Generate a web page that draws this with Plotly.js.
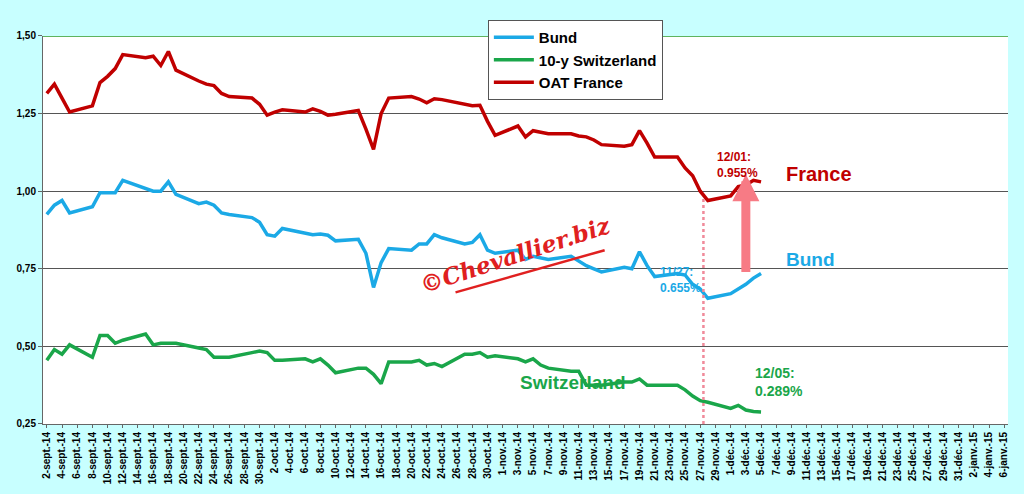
<!DOCTYPE html>
<html>
<head>
<meta charset="utf-8">
<script src="https://cdn.plot.ly/plotly-3.0.1.min.js"></script>
<style>body{margin:0;background:#c8ffff}</style>
</head>
<body>
<div id="chart" style="width:1024px;height:494px"></div>
<script>
var dates = ['2014-09-02','2014-09-03','2014-09-04','2014-09-05','2014-09-08','2014-09-09','2014-09-10','2014-09-11','2014-09-12',
  '2014-09-15','2014-09-16','2014-09-17','2014-09-18','2014-09-19','2014-09-22','2014-09-23','2014-09-24','2014-09-25','2014-09-26',
  '2014-09-29','2014-09-30','2014-10-01','2014-10-02','2014-10-03','2014-10-06','2014-10-07','2014-10-08','2014-10-09','2014-10-10',
  '2014-10-13','2014-10-14','2014-10-15','2014-10-16','2014-10-17','2014-10-20','2014-10-21','2014-10-22','2014-10-23','2014-10-24',
  '2014-10-27','2014-10-28','2014-10-29','2014-10-30','2014-10-31','2014-11-03','2014-11-04','2014-11-05','2014-11-06','2014-11-07',
  '2014-11-10','2014-11-11','2014-11-12','2014-11-13','2014-11-14','2014-11-17','2014-11-18','2014-11-19','2014-11-20','2014-11-21',
  '2014-11-24','2014-11-25','2014-11-26','2014-11-27','2014-11-28','2014-12-01','2014-12-02','2014-12-03','2014-12-04','2014-12-05']

var bund = [0.925,0.955,0.97,0.93,0.95,0.995,0.995,0.995,1.035,
  1.01,1.00,1.00,1.03,0.99,0.96,0.965,0.955,0.93,0.925,
  0.915,0.90,0.86,0.855,0.88,0.865,0.86,0.862,0.858,0.84,
  0.845,0.80,0.69,0.77,0.815,0.81,0.83,0.83,0.86,0.85,
  0.83,0.835,0.86,0.81,0.80,0.81,0.78,0.79,0.785,0.78,
  0.79,0.775,0.76,0.75,0.74,0.755,0.75,0.805,0.76,0.725,
  0.735,0.73,0.70,0.685,0.655,0.67,0.685,0.70,0.72,0.735]

var swiss = [0.455,0.49,0.475,0.505,0.465,0.535,0.535,0.51,0.52,
  0.54,0.505,0.51,0.51,0.51,0.495,0.49,0.465,0.465,0.465,
  0.48,0.485,0.48,0.455,0.455,0.46,0.45,0.46,0.44,0.415,
  0.43,0.43,0.41,0.38,0.45,0.45,0.455,0.44,0.445,0.435,
  0.475,0.475,0.48,0.465,0.47,0.46,0.45,0.46,0.44,0.43,
  0.42,0.42,0.375,0.375,0.375,0.385,0.385,0.395,0.375,0.375,
  0.375,0.36,0.34,0.325,0.32,0.30,0.31,0.295,0.29,0.289]

var oat = [1.315,1.345,1.30,1.255,1.275,1.35,1.37,1.395,1.44,
  1.43,1.435,1.405,1.45,1.39,1.355,1.345,1.34,1.315,1.305,
  1.30,1.28,1.245,1.255,1.262,1.255,1.265,1.257,1.245,1.248,
  1.26,1.20,1.135,1.25,1.30,1.305,1.297,1.285,1.298,1.295,
  1.28,1.275,1.277,1.225,1.18,1.21,1.175,1.195,1.19,1.185,
  1.185,1.178,1.175,1.165,1.15,1.145,1.15,1.195,1.155,1.11,
  1.11,1.075,1.05,1.00,0.97,0.985,1.015,1.02,1.035,1.03]

// tick labels every 2 days, French month abbreviations
var frMonths = ['janv.','févr.','mars','avr.','mai','juin','juil.','août','sept.','oct.','nov.','déc.']
var tickVals = [], tickText = []
for (var t = new Date(Date.UTC(2014,8,2)); t <= new Date(Date.UTC(2015,0,6)); t = new Date(t.getTime() + 2*86400000)) {
    tickVals.push(t.toISOString().slice(0,10))
    tickText.push(t.getUTCDate() + '-' + frMonths[t.getUTCMonth()] + '-' + String(t.getUTCFullYear()).slice(2))
}

function trace(name, y, color) {
    return {x: dates, y: y, name: name, type: 'scatter', mode: 'lines',
            line: {color: color, width: 3.5}, hoverinfo: 'skip'}
}
var data = [trace('Bund', bund, '#1ba9e6'), trace('10-y Switzerland', swiss, '#1aa64a'), trace('OAT France', oat, '#c00000')]

var layout = {
    width: 1024, height: 494,
    margin: {l: 43, r: 16, t: 20, b: 70},
    paper_bgcolor: '#c8ffff', plot_bgcolor: '#ffffff',
    separators: ',.',
    font: {family: 'Arial, Liberation Sans', color: '#000'},
    showlegend: true,
    legend: {x: 0.461, y: 1.0, xanchor: 'left', yanchor: 'top',
             bgcolor: '#fff', bordercolor: '#555', borderwidth: 1, itemwidth: 40,
             font: {size: 15, weight: 'bold', family: 'Arial, Liberation Sans'}, tracegroupgap: 6},
    xaxis: {type: 'date', range: ['2014-09-01 12:00', '2015-01-06 12:00'], tickvals: tickVals, ticktext: tickText,
            tickangle: -90, tickfont: {size: 10, weight: 'bold'}, showgrid: false, showline: true, linecolor: '#666',
            ticks: 'outside', ticklen: 3, tickcolor: '#666'},
    yaxis: {domain: [0, 0.9604], range: [0.25, 1.5], tickvals: [0.25, 0.5, 0.75, 1.0, 1.25, 1.5], tickformat: '.2f',
            tickfont: {size: 10, weight: 'bold'}, gridcolor: '#555', gridwidth: 1, showline: true, linecolor: '#666',
            ticks: 'outside', ticklen: 4, tickcolor: '#666', zeroline: false},
    shapes: [
        {type: 'line', xref: 'paper', yref: 'y', x0: 0, x1: 1, y0: 1.5, y1: 1.5, line: {color: '#2a9a2a', width: 1.5}},
        {type: 'line', x0: '2014-11-27 10:00', x1: '2014-11-27 10:00', y0: 0.25, y1: 0.98, line: {color: '#f08a9a', width: 2.5, dash: 'dot'}},
        {type: 'line', x0: '2014-10-25 19:00', y0: 0.674, x1: '2014-11-14 10:00', y1: 0.81, line: {color: '#e02020', width: 2.5}}
    ],
    annotations: [
        {x: '2014-12-03', y: 1.055, ax: '2014-12-03', ay: 0.735, axref: 'x', ayref: 'y', showarrow: true, arrowhead: 2,
         arrowsize: 0.6, arrowwidth: 9, arrowcolor: '#f77b85', text: ''},
        {x: '2014-12-08', y: 1.055, text: 'France', showarrow: false, xanchor: 'left', font: {size: 20, weight: 'bold', color: '#c00000'}},
        {x: '2014-12-08', y: 0.78, text: 'Bund', showarrow: false, xanchor: 'left', font: {size: 19, weight: 'bold', color: '#1ba9e6'}},
        {x: '2014-11-03', y: 0.384, text: 'Switzerland', showarrow: false, xanchor: 'left', font: {size: 19, weight: 'bold', color: '#1aa64a'}},
        {x: '2014-11-29', y: 1.085, text: '12/01:<br>0.955%', showarrow: false, xanchor: 'left', align: 'left', font: {size: 12, weight: 'bold', color: '#c00000'}},
        {x: '2014-11-21 12:00', y: 0.715, text: '11/27:<br>0.655%', showarrow: false, xanchor: 'left', align: 'left', font: {size: 12, weight: 'bold', color: '#1ba9e6'}},
        {x: '2014-12-04', y: 0.385, text: '12/05:<br>0.289%', showarrow: false, xanchor: 'left', align: 'left', font: {size: 14, weight: 'bold', color: '#1aa64a'}},
        {x: '2014-11-02 17:00', y: 0.795, text: '©Chevallier.biz', showarrow: false, textangle: -18,
         font: {family: 'DejaVu Serif', size: 23, weight: 'bold', style: 'italic', color: '#e02020'}}
    ]
}

Plotly.newPlot('chart', data, layout, {displayModeBar: false, staticPlot: true})
</script>
</body>
</html>
